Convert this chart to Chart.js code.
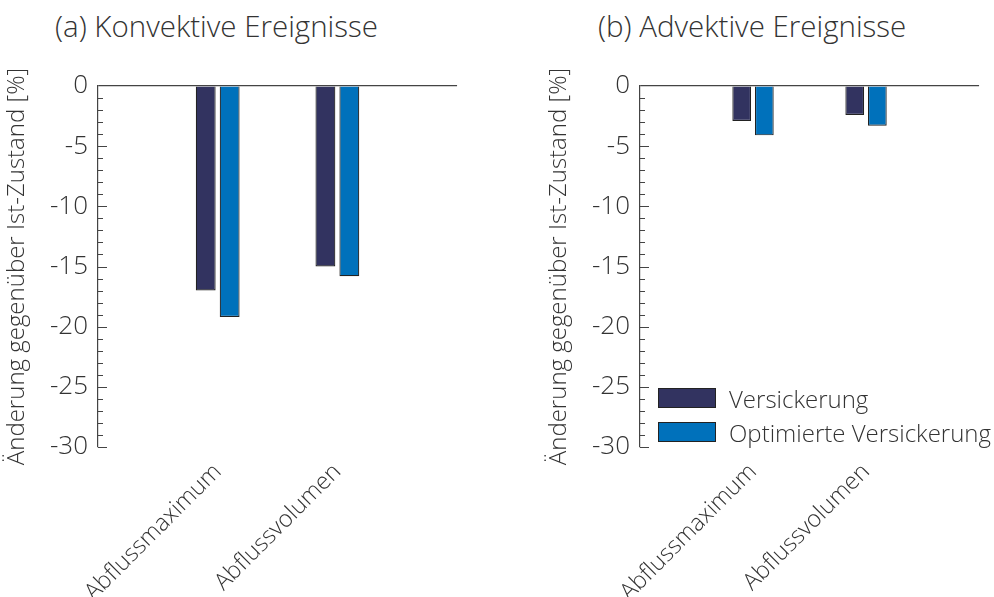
<!DOCTYPE html>
<html>
<head>
<meta charset="utf-8">
<script src="https://cdn.jsdelivr.net/npm/chart.js@4/dist/chart.umd.min.js"></script>
<style>
  body { margin: 0; width: 994px; height: 597px; position: relative; overflow: hidden; background: #fff;
         font-family: "Open Sans", sans-serif; font-weight: 300; color: #333; }
  .panel { position: absolute; top: 0; height: 597px; }
  .title { position: absolute; top: 5px; font-size: 29.5px; white-space: nowrap; }
  #legend { position: absolute; left: 658px; top: 381px; font-size: 24px; }
  #legend div { height: 34px; display: flex; align-items: center; }
  #legend span.sw { display: inline-block; width: 56px; height: 18px; border: 1.5px solid #222; margin-right: 13px; }
</style>
</head>
<body>
<div class="title" style="left:55px">(a) Konvektive Ereignisse</div>
<div class="title" style="left:598px">(b) Advektive Ereignisse</div>
<div class="panel" style="left:0;width:480px"><canvas id="chart-konv"></canvas></div>
<div class="panel" style="left:542px;width:460px"><canvas id="chart-adv"></canvas></div>
<div id="legend"></div>

<script>
// data
const categories = ['', 'Abflussmaximum', 'Abflussvolumen', ''];
const seriesNames = ['Versickerung', 'Optimierte Versickerung'];
const seriesColors = ['#323360', '#0071bb'];
const konvVersickerung = [null, -17.0, -15.0, null];
const konvOptimiert = [null, -19.2, -15.8, null];
const advVersickerung = [null, -2.9, -2.4, null];
const advOptimiert = [null, -4.1, -3.3, null];
const yMin = -30;
const yMax = 0;

const textColor = '#333';
const axisColor = '#444';
const fontFamily = 'Open Sans';

// small tick marks drawn on the inner side of the y axis
const innerTicks = {
    id: 'innerTicks',
    afterDraw(chart) {
        const y = chart.scales.y;
        const ctx = chart.ctx;
        ctx.save();
        ctx.strokeStyle = axisColor;
        ctx.lineWidth = 1;
        y.ticks.forEach(t => {
            if (t.value === 0) return;
            const py = Math.round(y.getPixelForValue(t.value)) + 0.5;
            const len = t.value % 5 === 0 ? 9 : 5;
            ctx.beginPath();
            ctx.moveTo(y.right, py);
            ctx.lineTo(y.right + len, py);
            ctx.stroke();
        });
        ctx.restore();
    }
};

function renderChart(canvasId, values, padRight) {
    const ctx = document.getElementById(canvasId).getContext('2d');
    new Chart(ctx, {
        type: 'bar',
        data: {
            labels: categories,
            datasets: values.map((v, i) => ({
                label: seriesNames[i],
                data: v,
                backgroundColor: seriesColors[i],
                borderColor: '#222',
                borderWidth: 1.2,
                categoryPercentage: 0.4,
                barPercentage: 0.83
            }))
        },
        options: {
            responsive: true,
            maintainAspectRatio: false,
            animation: false,
            layout: { padding: { top: 86, right: padRight, left: 0, bottom: 0 } },
            scales: {
                x: {
                    offset: false,
                    grid: { display: false },
                    border: { display: false },
                    ticks: {
                        minRotation: 45, maxRotation: 45, autoSkip: false, padding: 3,
                        color: textColor, font: { family: fontFamily, size: 23.5, weight: 300 }
                    },
                    afterFit(scale) { scale.height = 150; }
                },
                y: {
                    min: yMin,
                    max: yMax,
                    grid: {
                        drawTicks: false,
                        color: c => c.tick && c.tick.value === 0 ? axisColor : 'rgba(0,0,0,0)',
                        lineWidth: 1.2
                    },
                    border: { display: true, color: axisColor, width: 1.2 },
                    ticks: {
                        stepSize: 1, autoSkip: false, padding: 10,
                        color: textColor, font: { family: fontFamily, size: 26, weight: 300 },
                        callback: v => v % 5 === 0 ? v : ''
                    },
                    title: {
                        display: true,
                        text: 'Änderung gegenüber Ist-Zustand [%]',
                        color: textColor,
                        font: { family: fontFamily, size: 24, weight: 300 },
                        padding: { top: 3, bottom: 0 }
                    },
                    afterFit(scale) { scale.width = 98; }
                }
            },
            plugins: {
                legend: { display: false },
                tooltip: { enabled: false }
            }
        },
        plugins: [innerTicks]
    });
}

renderChart('chart-konv', [konvVersickerung, konvOptimiert], 20);
renderChart('chart-adv', [advVersickerung, advOptimiert], 0);

// legend for the right panel
const legend = document.getElementById('legend');
seriesNames.forEach((name, i) => {
    const row = document.createElement('div');
    row.innerHTML = '<span class="sw" style="background:' + seriesColors[i] + '"></span>' + name;
    legend.appendChild(row);
});
</script>
</body>
</html>
